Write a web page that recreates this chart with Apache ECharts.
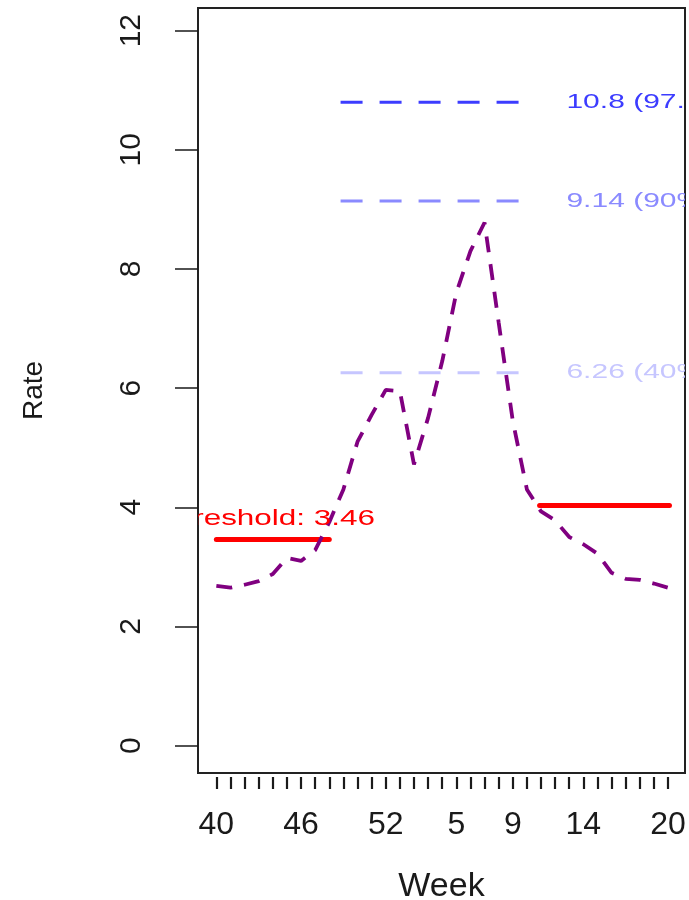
<!DOCTYPE html>
<html>
<head>
<meta charset="utf-8">
<script src="https://cdn.jsdelivr.net/npm/echarts@6.0.0/dist/echarts.min.js"></script>
<style>
  html, body { margin: 0; padding: 0; background: #fff; }
  #chart { width: 689px; height: 900px; }
</style>
</head>
<body>
<div id="chart"></div>
<script>
// season weeks 40..52 then 1..20
var weeks = [40, 41, 42, 43, 44, 45, 46, 47, 48, 49, 50, 51, 52,
             1, 2, 3, 4, 5, 6, 7, 8, 9, 10, 11, 12, 13, 14, 15, 16, 17, 18, 19, 20];
var rate = [2.68, 2.65, 2.7, 2.76, 2.88, 3.15, 3.1, 3.28, 3.75, 4.3, 5.1,
            5.55, 5.97, 5.95, 4.72, 5.5, 6.45, 7.6, 8.3, 8.78, 7.1, 5.45,
            4.3, 3.93, 3.78, 3.5, 3.38, 3.22, 2.9, 2.8, 2.78, 2.72, 2.65];
var weekLabels = [40, 46, 52, 5, 9, 14, 20];
var yTicks = [0, 2, 4, 6, 8, 10, 12];

var percentileValues = [10.8, 9.14, 6.26];
var percentileNames = ['10.8 (97.5%)', '9.14 (90%)', '6.26 (40%)'];
var percentileSpan = [8.8, 21.5];
var percentileLabelAt = 24.8;

var thresholdSegments = [[0, 8, 3.46], [22.9, 32.1, 4.03]];
var thresholdLabel = 'Threshold: 3.46';
var thresholdLabelAt = [3.5, 3.8];

(function() {
  var font = '"Liberation Sans", Arial, sans-serif';
  var ink = '#1a1a1a';
  var purple = '#800080';
  var red = '#ff0000';
  var pctColors = ['#3c3cff', '#8a8aff', '#c6c6ff'];

  var tickIdx = weeks.map(function(w, i) { return i; });
  var labelIdx = weekLabels.map(function(w) { return weeks.indexOf(w); });

  var series = [];

  // percentile reference lines
  percentileValues.forEach(function(v, k) {
    series.push({
      type: 'line',
      data: [[percentileSpan[0], v], [percentileSpan[1], v]],
      showSymbol: false,
      silent: true,
      lineStyle: { color: pctColors[k], width: 3, type: [22, 17], cap: 'butt' },
      z: 2
    });
  });

  // threshold segments
  thresholdSegments.forEach(function(s) {
    series.push({
      type: 'line',
      data: [[s[0], s[2]], [s[1], s[2]]],
      showSymbol: false,
      silent: true,
      lineStyle: { color: red, width: 5, cap: 'round' },
      z: 3
    });
  });

  // weekly rate curve
  series.push({
    type: 'line',
    data: rate.map(function(v, i) { return [i, v]; }),
    showSymbol: false,
    silent: true,
    lineStyle: { color: purple, width: 3.8, type: [16, 12], cap: 'butt' },
    z: 4
  });

  // in-plot text, clipped to the plot box (R text is stretched wide)
  var texts = percentileValues.map(function(v, k) {
    return { pos: [percentileLabelAt, v], text: percentileNames[k], color: pctColors[k], size: 20, align: 'left', sx: 1.5 };
  });
  texts.push({ pos: thresholdLabelAt, text: thresholdLabel, color: red, size: 22, align: 'center', sx: 1.43 });

  series.push({
    type: 'custom',
    coordinateSystem: 'cartesian2d',
    clip: true,
    silent: true,
    data: texts.map(function(t) { return t.pos; }),
    renderItem: function(params, api) {
      var t = texts[params.dataIndex];
      var p = api.coord([api.value(0), api.value(1)]);
      return {
        type: 'text',
        x: p[0], y: p[1],
        scaleX: t.sx,
        style: {
          text: t.text, fill: t.color,
          font: t.size + 'px ' + font,
          align: t.align, verticalAlign: 'middle'
        }
      };
    },
    z: 5
  });

  var chart = echarts.init(document.getElementById('chart'), null, { renderer: 'canvas' });
  chart.setOption({
    animation: false,
    backgroundColor: '#fff',
    grid: {
      left: 198, right: 4, top: 8, bottom: 127,
      outerBoundsMode: 'none',
      show: true, borderColor: '#222', borderWidth: 2,
      backgroundColor: 'transparent'
    },
    xAxis: {
      type: 'value',
      min: -1.3, max: 33.2,
      offset: 4,
      name: 'Week',
      nameLocation: 'middle',
      nameGap: 93,
      nameTextStyle: { color: ink, fontSize: 34, fontFamily: font },
      axisLine: { show: false, onZero: false },
      axisTick: { show: true, length: 12, customValues: tickIdx, lineStyle: { color: ink, width: 2.2 } },
      axisLabel: {
        customValues: labelIdx,
        color: ink, fontSize: 32, fontFamily: font, margin: 32,
        formatter: function(v) { return String(weeks[Math.round(v)]); }
      },
      splitLine: { show: false }
    },
    yAxis: {
      type: 'value',
      min: -0.46, max: 12.38,
      name: 'Rate',
      nameLocation: 'middle',
      nameRotate: 90,
      nameGap: 150,
      nameTextStyle: { color: ink, fontSize: 28, fontFamily: font },
      axisLine: { show: false, onZero: false },
      axisTick: { show: true, length: 23, customValues: yTicks, lineStyle: { color: ink, width: 1.5 } },
      axisLabel: {
        customValues: yTicks,
        rotate: 90,
        color: ink, fontSize: 30, fontFamily: font, margin: 51
      },
      splitLine: { show: false }
    },
    series: series
  });
  window.addEventListener('resize', function() { chart.resize(); });
})();
</script>
</body>
</html>
